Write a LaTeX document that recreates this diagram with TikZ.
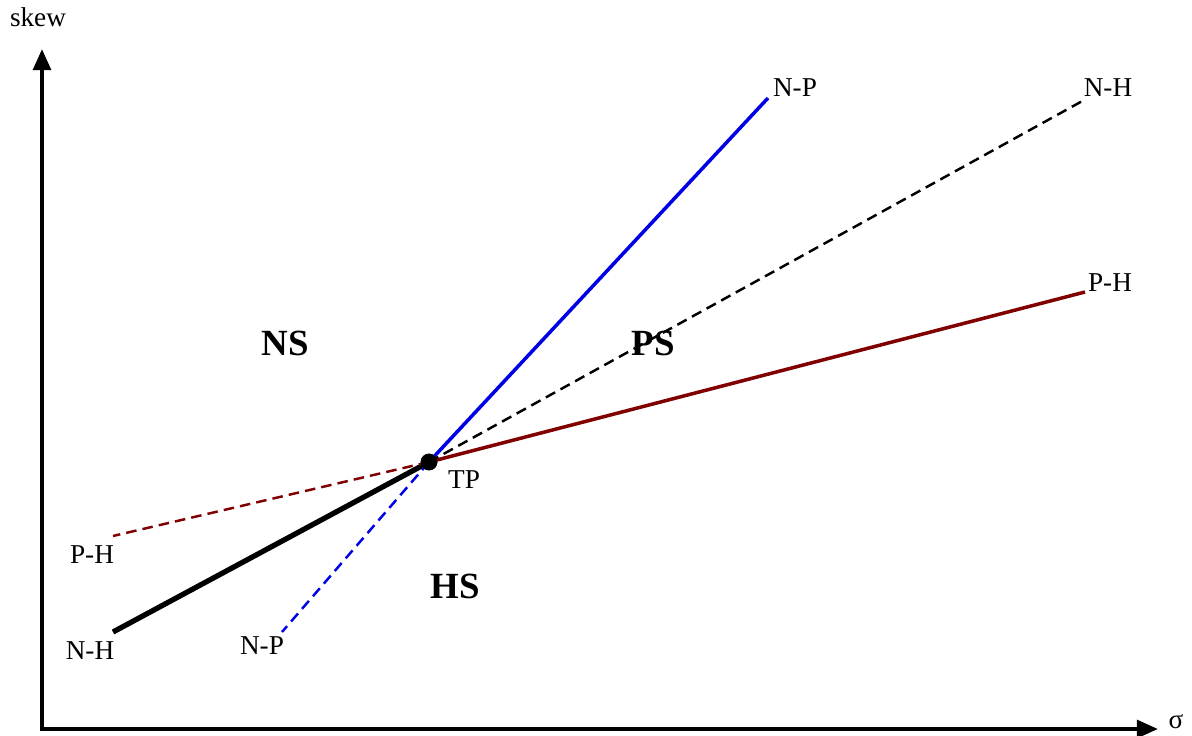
\documentclass[tikz,border=0pt]{standalone}
\usepackage{fontspec}
\setmainfont{Liberation Serif}
\usetikzlibrary{arrows.meta}
\definecolor{npline}{RGB}{0,0,230}
\definecolor{phline}{RGB}{128,0,0}

\begin{document}
\begin{tikzpicture}[x=0.02cm, y=-0.02cm,
  axis/.style={line width=2.4pt, -{Triangle[length=12pt, width=10pt]}},
  lbl/.style={font=\fontsize{15.5}{18}\selectfont, inner sep=1pt},
  region/.style={font=\fontsize{21}{24}\selectfont\bfseries},
  dashline/.style={line width=1.4pt, dash pattern=on 6pt off 3.5pt}]
\useasboundingbox (0,0) rectangle (1192,736);

% axes
\coordinate (origin) at (42,729);
\coordinate (ytop) at (42,49);
\coordinate (xend) at (1158,729);
\draw[axis] (origin) -- (ytop);
\draw[axis] ([xshift=-1.2pt]origin) -- (xend);
\node[lbl] (skew) at (38,17) {skew};
\node[lbl] (sigma) at (1176,722) {σ};

% triple point and line ends
\node[circle, fill=black, inner sep=0pt, minimum size=9.5pt] (tp) at (429,462) {};
\coordinate (npA) at (768,98);
\coordinate (npB) at (282,632);
\coordinate (nhA) at (1086,99);
\coordinate (nhB) at (113,632);
\coordinate (phA) at (1085,292);
\coordinate (phB) at (113,536);

% stable boundaries
\draw[npline, line width=2pt] (tp.center) -- (npA);
\draw[phline, line width=2pt] (tp.center) -- (phA);
\draw[black, line width=3pt] (tp.center) -- (nhB);

% metastable extensions
\draw[npline, dashline] (tp.center) -- (npB);
\draw[phline, dashline] (tp.center) -- (phB);
\draw[black, dashline] (tp.center) -- (nhA);

\node[circle, fill=black, inner sep=0pt, minimum size=9.5pt] at (tp) {};

% labels
\node[lbl] (tpLbl) at (464,480) {TP};
\node[lbl] (npTop) at (795,88) {N-P};
\node[lbl] (nhTop) at (1108,88) {N-H};
\node[lbl] (phTop) at (1110,283) {P-H};
\node[lbl] (phLow) at (92,555) {P-H};
\node[lbl] (nhLow) at (90,651) {N-H};
\node[lbl] (npLow) at (262,646) {N-P};

\node[region] (ns) at (285,343) {NS};
\node[region] (ps) at (653,343) {PS};
\node[region] (hs) at (455,586) {HS};
\end{tikzpicture}
\end{document}
